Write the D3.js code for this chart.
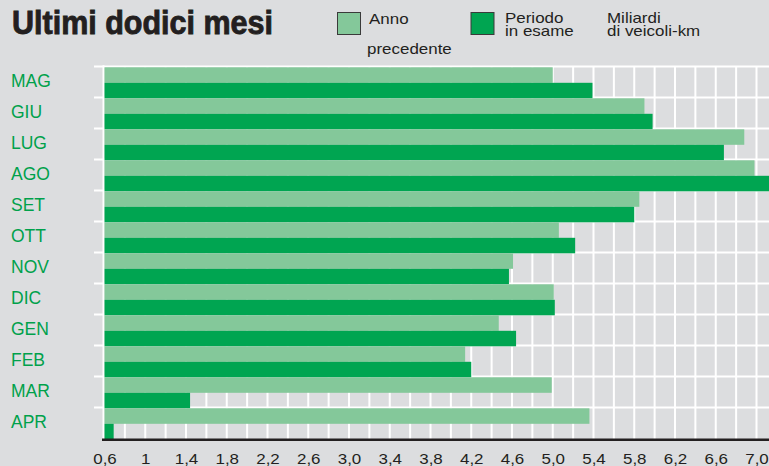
<!DOCTYPE html>
<head>
  <meta charset="utf-8" />
  <script src="https://cdn.jsdelivr.net/npm/d3@7"></script>
  <style>
    body { margin: 0; background: #dcdddf; }
    svg { display: block; }
  </style>
</head>
<body>
  <svg width="769" height="466"></svg>
  <script>
    // months, previous year vs period under review (billions vehicle-km)
    const months = ["MAG", "GIU", "LUG", "AGO", "SET", "OTT", "NOV", "DIC", "GEN", "FEB", "MAR", "APR"];
    const annoPrecedente = [5.0, 5.9, 6.88, 6.98, 5.85, 5.06, 4.61, 5.01, 4.47, 4.14, 4.99, 5.36];
    const periodoEsame = [5.39, 5.98, 6.68, 7.2, 5.8, 5.22, 4.57, 5.02, 4.64, 4.2, 1.44, 0.69];
    const tickValues = [0.6, 1, 1.4, 1.8, 2.2, 2.6, 3.0, 3.4, 3.8, 4.2, 4.6, 5.0, 5.4, 5.8, 6.2, 6.6, 7.0];
    const tickLabels = ["0,6", "1", "1,4", "1,8", "2,2", "2,6", "3,0", "3,4", "3,8", "4,2", "4,6", "5,0", "5,4", "5,8", "6,2", "6,6", "7,0"];
    const series = ["prev", "curr"];

    const light = "#84c89a", dark = "#00a551", bg = "#dcdddf";
    const plotTop = 67.3, plotBottom = 439.3;

    const svg = d3.select("svg");
    svg.append("rect").attr("width", 769).attr("height", 466).attr("fill", bg);

    const x = d3.scaleLinear().domain([0.6, 7.0]).range([104.5, 756.5]);
    const y = d3.scaleBand().domain(months).range([plotTop, plotBottom]);
    const ySub = d3.scaleBand().domain(series).range([0, y.bandwidth()]);

    // grid
    const grid = svg.append("g");
    grid.selectAll(".v")
      .data(d3.range(0.8, 7.3, 0.2))
      .enter().append("line")
      .attr("x1", d => x(d)).attr("x2", d => x(d))
      .attr("y1", plotTop - 1).attr("y2", plotBottom)
      .attr("stroke", "#fff").attr("stroke-width", 2);
    grid.selectAll(".h")
      .data(months)
      .enter().append("line")
      .attr("x1", 94).attr("x2", 769)
      .attr("y1", d => y(d) - 0.8).attr("y2", d => y(d) - 0.8)
      .attr("stroke", "#fff").attr("stroke-width", 2);
    grid.append("line")
      .attr("x1", 103.5).attr("x2", 103.5)
      .attr("y1", plotTop - 2).attr("y2", plotBottom)
      .attr("stroke", "#fff").attr("stroke-width", 2);

    // bars
    const rows = svg.append("g").selectAll("g")
      .data(months)
      .enter().append("g")
      .attr("transform", d => `translate(0,${y(d)})`);
    rows.append("rect")
      .attr("x", x(0.6))
      .attr("y", ySub("prev"))
      .attr("height", ySub.bandwidth())
      .attr("width", (d, i) => x(annoPrecedente[i]) - x(0.6))
      .attr("fill", light);
    rows.append("rect")
      .attr("x", x(0.6))
      .attr("y", ySub("curr"))
      .attr("height", ySub.bandwidth())
      .attr("width", (d, i) => x(periodoEsame[i]) - x(0.6))
      .attr("fill", dark);

    // month labels
    svg.append("g").selectAll("text")
      .data(months)
      .enter().append("text")
      .attr("x", 11)
      .attr("y", d => y(d) + y.bandwidth() / 2 - 2)
      .attr("dy", "0.35em")
      .attr("fill", "#00a14b")
      .style("font", "17.5px 'Liberation Sans', Arial, sans-serif")
      .text(d => d);

    // x axis
    const xAxis = d3.axisBottom(x)
      .tickValues(tickValues)
      .tickSize(0)
      .tickPadding(14)
      .tickFormat((d, i) => tickLabels[i]);
    const ax = svg.append("g")
      .attr("transform", `translate(0,${plotBottom})`)
      .call(xAxis);
    ax.select(".domain").remove();
    ax.selectAll("text")
      .attr("fill", "#231f20")
      .attr("transform", "scale(1.13,1)")
      .style("font", "15px 'Liberation Sans', Arial, sans-serif");
    svg.append("line")
      .attr("x1", 102).attr("x2", 769)
      .attr("y1", plotBottom + 0.5).attr("y2", plotBottom + 0.5)
      .attr("stroke", "#231f20").attr("stroke-width", 2.5);

    // title
    svg.append("text")
      .attr("x", 12).attr("y", 34)
      .attr("textLength", 261)
      .attr("lengthAdjust", "spacingAndGlyphs")
      .attr("fill", "#231f20").attr("stroke", "#231f20").attr("stroke-width", 0.9)
      .style("font", "bold 33px 'Liberation Sans', Arial, sans-serif")
      .text("Ultimi dodici mesi");

    // legend
    const legendText = [
      { x: 369, y: 23.5, t: "Anno" },
      { x: 367, y: 53.5, t: "precedente" },
      { x: 505, y: 23, t: "Periodo" },
      { x: 505, y: 36.3, t: "in esame" },
      { x: 607, y: 23, t: "Miliardi" },
      { x: 607, y: 36.3, t: "di veicoli-km" }
    ];
    const legend = svg.append("g");
    legend.append("rect").attr("x", 337.5).attr("y", 12.5).attr("width", 23).attr("height", 22)
      .attr("fill", light).attr("stroke", "#3a3a3a").attr("stroke-width", 1);
    legend.append("rect").attr("x", 471).attr("y", 12.5).attr("width", 23).attr("height", 22)
      .attr("fill", dark).attr("stroke", "#3a3a3a").attr("stroke-width", 1);
    legend.selectAll("text")
      .data(legendText)
      .enter().append("text")
      .attr("transform", d => `translate(${d.x},${d.y}) scale(1.13,1)`)
      .attr("fill", "#231f20")
      .style("font", "15px 'Liberation Sans', Arial, sans-serif")
      .text(d => d.t);
  </script>
</body>
